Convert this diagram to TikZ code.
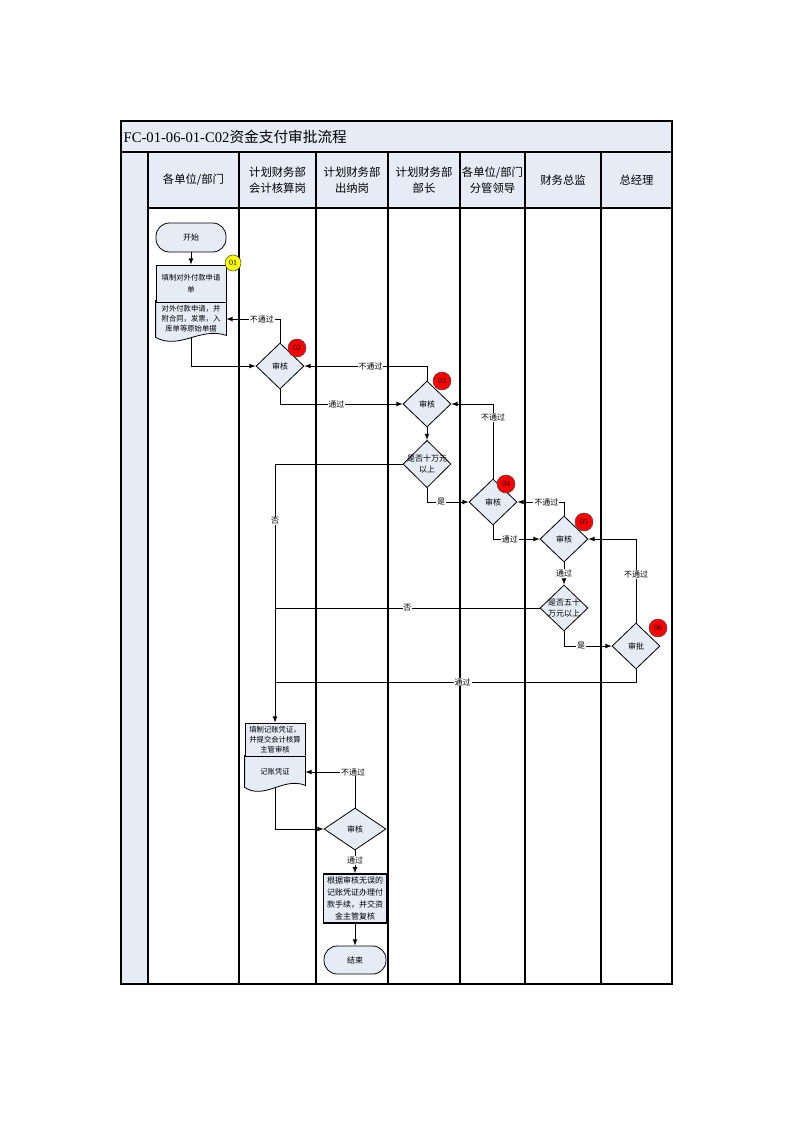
\documentclass[tikz,border=0pt]{standalone}
\usepackage{fontspec}
\setmainfont{Liberation Serif}
\newfontfamily\cjk{Noto Sans CJK SC}
\usetikzlibrary{arrows,calc,shapes.geometric,backgrounds}
\definecolor{FillClr}{rgb}{0.898,0.925,0.965}
\definecolor{BadgeClr}{rgb}{1,0,0}
\definecolor{StartClr}{rgb}{1,1,0}

\begin{document}
\begin{tikzpicture}[x=0.75pt,y=-0.75pt,>=latex,
  frame/.style={line width=0.9pt},
  conn/.style={line width=0.6pt},
  txt/.style={font=\cjk\fontsize{6}{8}\selectfont,align=center},
  term/.style={txt,draw,fill=FillClr,rounded corners=10pt,minimum width=52.5pt,minimum height=21.75pt,line width=0.6pt},
  docbox/.style={txt,draw,fill=FillClr,inner sep=1pt,line width=0.6pt,font=\cjk\fontsize{5.5}{7.5}\selectfont},
  dec/.style={txt,shape=diamond,draw,fill=FillClr,inner sep=-2pt,minimum width=36pt,minimum height=34.5pt,line width=0.6pt},
  badge/.style={circle,draw=black!70,fill=BadgeClr,minimum size=13.5pt,inner sep=0pt,font=\fontsize{6}{6}\selectfont},
  lbl/.style={fill=white,inner sep=0.6pt,font=\cjk\fontsize{6}{6}\selectfont}]
\useasboundingbox (0,0) rectangle (793,1122);

\fill[FillClr] (121,121) rectangle (672,208);
\fill[FillClr] (121,208) rectangle (148,984);
\draw[frame] (121,121) rectangle (672,984);
\draw[frame] (121,152) -- (672,152);
\draw[frame] (148,208) -- (672,208);
\foreach \x in {148,239,316,388,460,525,601}
  \draw[frame] (\x,152) -- (\x,984);

\node[anchor=west,inner sep=1pt,font=\fontsize{11}{13}\selectfont] (title) at (122,137) {FC-01-06-01-C02{\cjk 资金支付审批流程}};
\foreach \x/\t [count=\i] in {193.5/{各单位/部门},277.5/{计划财务部\\会计核算岗},352/{计划财务部\\出纳岗},424/{计划财务部\\部长},492.5/{各单位/部门\\分管领导},563/{财务总监},636.5/{总经理}}
  \node[txt,font=\cjk\fontsize{8.5}{12}\selectfont] (h\i) at (\x,180) {\t};

\node[term] (st) at (191,237.5) {开始};
\node[docbox,minimum width=52.5pt,minimum height=27.75pt,font=\cjk\fontsize{5.5}{9}\selectfont] (d1a) at (191,283.5) {填制对外付款申请\\单};
\node[docbox,draw=none,fill=none,minimum width=52.5pt,minimum height=27pt] (d1b) at (191,319) {对外付款申请，并\\附合同，发票，入\\库单等原始单据};
\node[dec] (d02) at (280,366) {审核};
\node[dec] (d03) at (427,404) {审核};
\node[dec] (d10) at (427,464) {是否十万元\\以上};
\node[dec] (d04) at (493,502) {审核};
\node[dec] (d05) at (564,539) {审核};
\node[dec] (d50) at (564,608) {是否五十\\万元以上};
\node[dec] (d06) at (636,646) {审批};
\node[docbox,minimum width=45pt,minimum height=24.75pt] (d2a) at (275,739.5) {填制记账凭证，\\并提交会计核算\\主管审核};
\node[docbox,draw=none,fill=none,minimum width=45pt,minimum height=24pt] (d2b) at (275,772) {记账凭证};
\node[dec,minimum width=46.5pt,minimum height=31.5pt] (dc) at (355,829) {审核};
\node[docbox,minimum width=47.25pt,minimum height=36.75pt,line width=1pt,font=\cjk\fontsize{6}{9}\selectfont] (bx) at (355,898.5) {根据审核无误的\\记账凭证办理付\\款手续，并交资\\金主管复核};
\node[term,minimum width=46.5pt,minimum height=21pt] (en) at (355,960) {结束};

\begin{scope}[on background layer]
\draw[conn,fill=FillClr] (d1b.north west) -- (d1b.north east) -- ($(d1b.south east)+(0,-2)$) .. controls ($(d1b.south east)+(-26,-11)$) and ($(d1b.south west)+(24,13)$) .. ($(d1b.south west)+(0,0)$) -- cycle;
\draw[conn,fill=FillClr] (d2b.north west) -- (d2b.north east) -- ($(d2b.south east)+(0,-3)$) .. controls ($(d2b.south east)+(-22,-12)$) and ($(d2b.south west)+(20,12)$) .. ($(d2b.south west)+(0,-1)$) -- cycle;
\end{scope}

\node[badge,fill=StartClr,minimum size=12pt] (b01) at (233,263) {01};
\node[badge] (b02) at (297,348) {02};
\node[badge] (b03) at (442,381) {03};
\node[badge] (b04) at (506,484) {04};
\node[badge] (b05) at (584,522) {05};
\node[badge] (b06) at (658,628) {06};

\draw[conn,->] (st) -- (d1a);
\draw[conn,->] (d1b.south) |- (d02.west);
\draw[conn,->] (d02.north) |- (d1b.east) node[lbl,pos=0.67]{不通过};
\draw[conn,->] (d02.south) |- (d03.west) node[lbl,pos=0.73]{通过};
\draw[conn,->] (d03.north) |- (d02.east) node[lbl,pos=0.73]{不通过};
\draw[conn,->] (d03) -- (d10);
\draw[conn,->] (d10.west) -| (d2a.north) node[lbl,pos=0.61]{否};
\draw[conn,->] (d10.south) |- (d04.west) node[lbl,pos=0.67]{是};
\draw[conn,->] (d04.north) |- (d03.east) node[lbl,pos=0.41]{不通过};
\draw[conn,->] (d04.south) |- (d05.west) node[lbl,pos=0.68]{通过};
\draw[conn,->] (d05.north) |- (d04.east) node[lbl,pos=0.69]{不通过};
\draw[conn,->] (d05) -- (d50) node[lbl,midway]{通过};
\draw[conn] (d50.west) -- (d50.west -| d2a.north) node[lbl,midway]{否};
\draw[conn,->] (d50.south) |- (d06.west) node[lbl,pos=0.68]{是};
\draw[conn,->] (d06.north) |- (d05.east) node[lbl,pos=0.29]{不通过};
\coordinate (j06) at (d2a.north |- 0,682);
\draw[conn] (d06.south) |- (j06) node[lbl,pos=0.74]{通过};
\draw[conn,->] (d2b.south) |- (dc.west);
\draw[conn,->] (dc.north) |- (d2b.east) node[lbl,pos=0.52]{不通过};
\draw[conn,->] (dc) -- (bx) node[lbl,pos=0.45]{通过};
\draw[conn,->] (bx) -- (en);

\end{tikzpicture}
\end{document}
